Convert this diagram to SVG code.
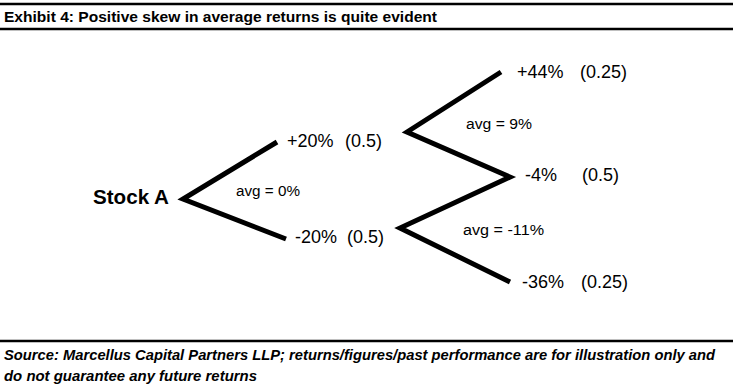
<svg xmlns="http://www.w3.org/2000/svg" width="733" height="391" viewBox="0 0 733 391">
<style>
.rule{stroke:#000;stroke-width:2.5}
.branch{fill:none;stroke:#000;stroke-width:5;stroke-linejoin:miter;stroke-linecap:butt}
.lbl{font-family:"Liberation Sans",Arial,sans-serif;font-size:18px;fill:#000}
.avg{font-family:"Liberation Sans",Arial,sans-serif;font-size:14px;fill:#000}
.title{font-family:"Liberation Sans",Arial,sans-serif;font-size:15px;font-weight:bold;fill:#000}
.src{font-family:"Liberation Sans",Arial,sans-serif;font-size:14.5px;font-weight:bold;font-style:italic;fill:#000}
.stock{font-family:"Liberation Sans",Arial,sans-serif;font-size:20px;font-weight:bold;fill:#000}
</style>
<rect width="733" height="391" fill="#fff"/>
<line class="rule" x1="0" y1="4" x2="733" y2="4"/>
<line class="rule" x1="0" y1="29" x2="733" y2="29"/>
<text class="title" x="4" y="22" textLength="433" lengthAdjust="spacingAndGlyphs">Exhibit 4: Positive skew in average returns is quite evident</text>
<g id="connectors">
<polyline class="branch" points="277,142 183,199 286,239"/>
<polyline class="branch" points="501,72 407,132 510,177 400,228 510,282"/>
</g>
<g id="stockA"><text class="stock" x="93" y="204" textLength="76" lengthAdjust="spacingAndGlyphs">Stock A</text></g>
<g id="up20"><text class="lbl" x="287" y="147">+20%</text><text class="lbl" x="345" y="147">(0.5)</text></g>
<g id="down20"><text class="lbl" x="295" y="243">-20%</text><text class="lbl" x="347" y="243">(0.5)</text></g>
<g id="avg0"><text class="avg" x="236" y="196" textLength="64" lengthAdjust="spacingAndGlyphs">avg = 0%</text></g>
<g id="up44"><text class="lbl" x="517" y="78">+44%</text><text class="lbl" x="580" y="78">(0.25)</text></g>
<g id="avg9"><text class="avg" x="466" y="129" textLength="66" lengthAdjust="spacingAndGlyphs">avg = 9%</text></g>
<g id="minus4"><text class="lbl" x="525" y="181">-4%</text><text class="lbl" x="582" y="181">(0.5)</text></g>
<g id="avg11"><text class="avg" x="463" y="235" textLength="81" lengthAdjust="spacingAndGlyphs">avg = -11%</text></g>
<g id="minus36"><text class="lbl" x="522" y="288">-36%</text><text class="lbl" x="581" y="288">(0.25)</text></g>
<line class="rule" x1="0" y1="341" x2="733" y2="341"/>
<text class="src" x="4" y="360" textLength="711" lengthAdjust="spacingAndGlyphs">Source: Marcellus Capital Partners LLP; returns/figures/past performance are for illustration only and</text>
<text class="src" x="4" y="381" textLength="253" lengthAdjust="spacingAndGlyphs">do not guarantee any future returns</text>
</svg>
